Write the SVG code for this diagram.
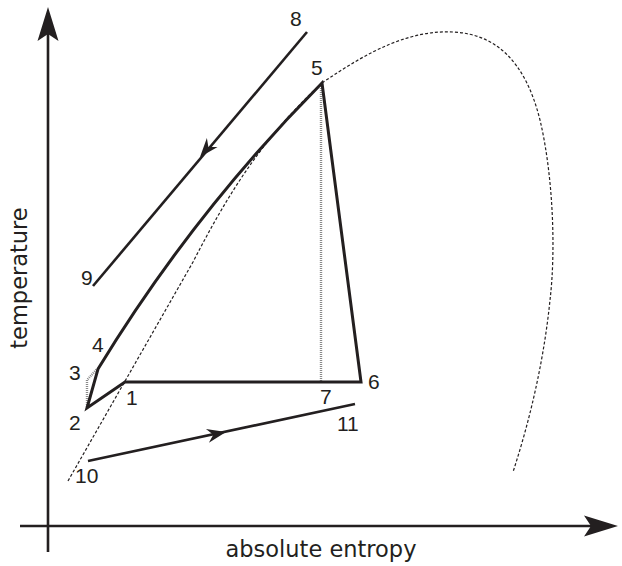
<svg xmlns="http://www.w3.org/2000/svg" width="622" height="566" viewBox="0 0 622 566">
<style>
.ln{fill:none;stroke:#231f20;stroke-width:3;stroke-linejoin:miter;stroke-miterlimit:20}
.thin{fill:none;stroke:#231f20;stroke-width:2.6}
.dome{fill:none;stroke:#231f20;stroke-width:1.2;stroke-dasharray:3 2}
.gray{fill:none;stroke:#8a8a8a;stroke-width:2.4;stroke-dasharray:1 1}
.lbl{font-family:"Liberation Sans",Arial,sans-serif;font-size:21px;fill:#231f20}
.ax{font-family:"DejaVu Sans",sans-serif;font-size:22.5px;fill:#231f20}
.ah{fill:#231f20}
</style>
<defs>
<path id="bigHead" d="M0,0 L-34,-10.5 L-27,0 L-34,10.5 Z"/>
<path id="smallHead" d="M0,0 L-19,-7 L-13,0 L-19,7 Z"/>
</defs>
<g id="axes">
<line class="thin" x1="48" y1="552" x2="48" y2="30" stroke-width="3"/>
<use href="#bigHead" class="ah" transform="translate(48,7) rotate(-90)"/>
<line class="thin" x1="20" y1="526" x2="598" y2="526" stroke-width="3"/>
<use href="#bigHead" class="ah" transform="translate(618,526)"/>
</g>
<g id="saturation-dome">
<path class="dome" d="M68,481 L193,262 C225,200 260,140 322,83"/>
<path class="dome" d="M322,83 C370,50 410,30 453,32 C495,34 525,60 540,120 C553,175 556,250 550,300 C544,360 530,420 513,472"/>
</g>
<g id="connectors">
<path class="gray" d="M321,84 L321,382"/>
<path class="gray" d="M87,407 L87,380 L97,369"/>
<path class="ln" d="M361,382 L125,382 L87,408 L98,369 Q193,213 322,83 Z"/>
<line class="thin" x1="307" y1="32" x2="93" y2="286"/>
<use href="#smallHead" class="ah" transform="translate(200,157) rotate(130.1)"/>
<line class="thin" x1="88" y1="461" x2="355" y2="404"/>
<use href="#smallHead" class="ah" transform="translate(226,432) rotate(-12.05)"/>
</g>
<g id="n1"><text class="lbl" x="126" y="405">1</text></g>
<g id="n2"><text class="lbl" x="69" y="430">2</text></g>
<g id="n3"><text class="lbl" x="69" y="380">3</text></g>
<g id="n4"><text class="lbl" x="92" y="352">4</text></g>
<g id="n5"><text class="lbl" x="311" y="75">5</text></g>
<g id="n6"><text class="lbl" x="368" y="389">6</text></g>
<g id="n7"><text class="lbl" x="320" y="404">7</text></g>
<g id="n8"><text class="lbl" x="290" y="26">8</text></g>
<g id="n9"><text class="lbl" x="81" y="285">9</text></g>
<g id="n10"><text class="lbl" x="75" y="483">10</text></g>
<g id="n11"><text class="lbl" x="337" y="431">11</text></g>
<g id="axis-labels">
<text class="ax" text-anchor="middle" transform="translate(27,278) rotate(-90)">temperature</text>
<text class="ax" x="321" y="557" text-anchor="middle">absolute entropy</text>
</g>
</svg>
